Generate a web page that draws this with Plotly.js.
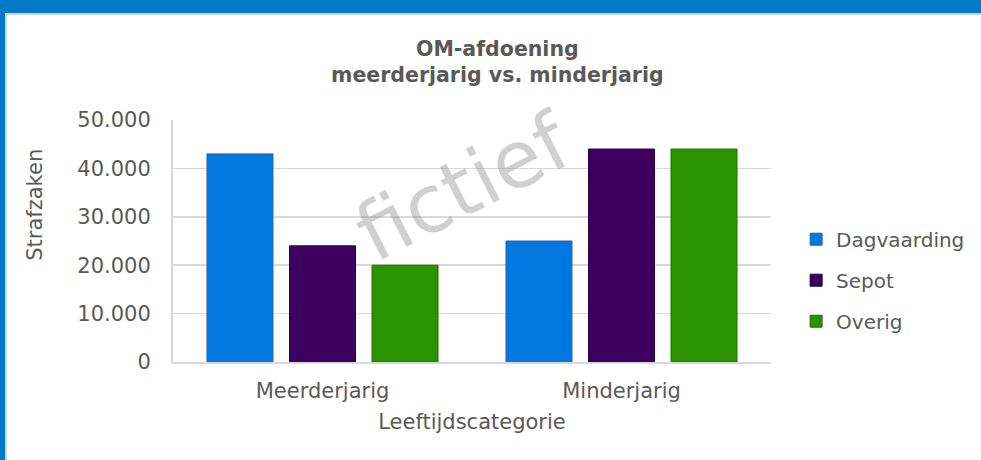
<!DOCTYPE html>
<html>
<head>
<meta charset="utf-8">
<script src="https://cdn.plot.ly/plotly-3.0.1.min.js"></script>
<style>
  html, body { margin: 0; padding: 0; background: #ffffff; }
  #frame { position: absolute; left: 0; top: 0; width: 981px; height: 460px; background: #0079C8; overflow: hidden; }
  #inner { position: absolute; left: 5px; top: 13px; width: 976px; height: 447px; background: #ffffff; border-top: 2px solid #d4d4d4; border-left: 2px solid #d4d4d4; box-sizing: border-box; }
  #chart { position: absolute; left: 0; top: 0; width: 981px; height: 460px; }
</style>
</head>
<body>
<div id="frame"><div id="inner"></div></div>
<div id="chart"></div>
<script>
const categories = ["Meerderjarig", "Minderjarig"];
const seriesNames = ["Dagvaarding", "Sepot", "Overig"];
const dagvaarding = [43000, 25000];
const sepot = [24000, 44000];
const overig = [20000, 44000];
const yTicks = [0, 10000, 20000, 30000, 40000, 50000];
const yTitle = "Strafzaken";
const xTitle = "Leeftijdscategorie";
const watermark = "fictief";

const fillColors = ["#0078E0", "#3D0061", "#2B9200"];
const lineColors = ["#2F64A8", "#2A0045", "#237300"];
const values = [dagvaarding, sepot, overig];

const traces = seriesNames.map((name, i) => ({
  type: "bar",
  name: name,
  x: categories,
  y: values[i],
  legendgroup: "g" + i,
  marker: { color: fillColors[i], line: { color: lineColors[i], width: 1 } },
  hoverinfo: "skip"
}));

const gray = "#595959";
const fam = "DejaVu Sans, Verdana, sans-serif";
const layout = {
  width: 981,
  height: 460,
  paper_bgcolor: "rgba(0,0,0,0)",
  plot_bgcolor: "#ffffff",
  separators: ",.",
  margin: { l: 173, r: 210, t: 120, b: 98, pad: 0, autoexpand: false },
  barmode: "group",
  bargap: 0.172,
  bargroupgap: 0.2,
  font: { family: fam, color: gray, size: 20 },
  title: {
    text: "<b>OM-afdoening</b><br><b>meerderjarig vs. minderjarig</b>",
    font: { family: fam, size: 20.5, color: gray },
    xref: "container", x: 0.507, xanchor: "center",
    yref: "container", y: 0.879, yanchor: "top"
  },
  xaxis: {
    type: "category",
    showline: true, linecolor: "#d9d9d9", linewidth: 2,
    ticks: "outside", ticklen: 9, tickcolor: "rgba(0,0,0,0)",
    showgrid: false,
    tickfont: { family: fam, size: 21, color: gray },
    title: { text: xTitle, standoff: 12,
      font: { family: fam, size: 21, color: gray } },
    fixedrange: true
  },
  yaxis: {
    range: [0, 50000],
    tickvals: yTicks,
    tickformat: ",d",
    showgrid: true, gridcolor: "#d9d9d9", gridwidth: 1.5,
    showline: true, linecolor: "#d9d9d9", linewidth: 2,
    zeroline: false,
    ticks: "outside", ticklen: 16, tickcolor: "rgba(0,0,0,0)",
    tickfont: { family: fam, size: 21, color: gray },
    fixedrange: true
  },
  showlegend: true,
  legend: {
    x: 1.042, xanchor: "left",
    y: 0.338, yanchor: "middle",
    traceorder: "grouped",
    tracegroupgap: 12,
    itemwidth: 30,
    font: { family: fam, size: 20, color: gray },
    bgcolor: "rgba(0,0,0,0)"
  },
  annotations: [
    {
      text: yTitle,
      xref: "paper", yref: "paper",
      x: -0.231, y: 0.649,
      xanchor: "center", yanchor: "middle",
      showarrow: false,
      textangle: -90,
      font: { family: fam, size: 21, color: gray }
    },
    {
      text: watermark,
      xref: "paper", yref: "paper",
      x: 0.485, y: 0.72,
      xanchor: "center", yanchor: "middle",
      showarrow: false,
      textangle: -27,
      font: { family: fam, size: 80, color: "rgba(150,150,150,0.45)" }
    }
  ]
};

Plotly.newPlot("chart", traces, layout, { displayModeBar: false, staticPlot: true });
</script>
</body>
</html>
